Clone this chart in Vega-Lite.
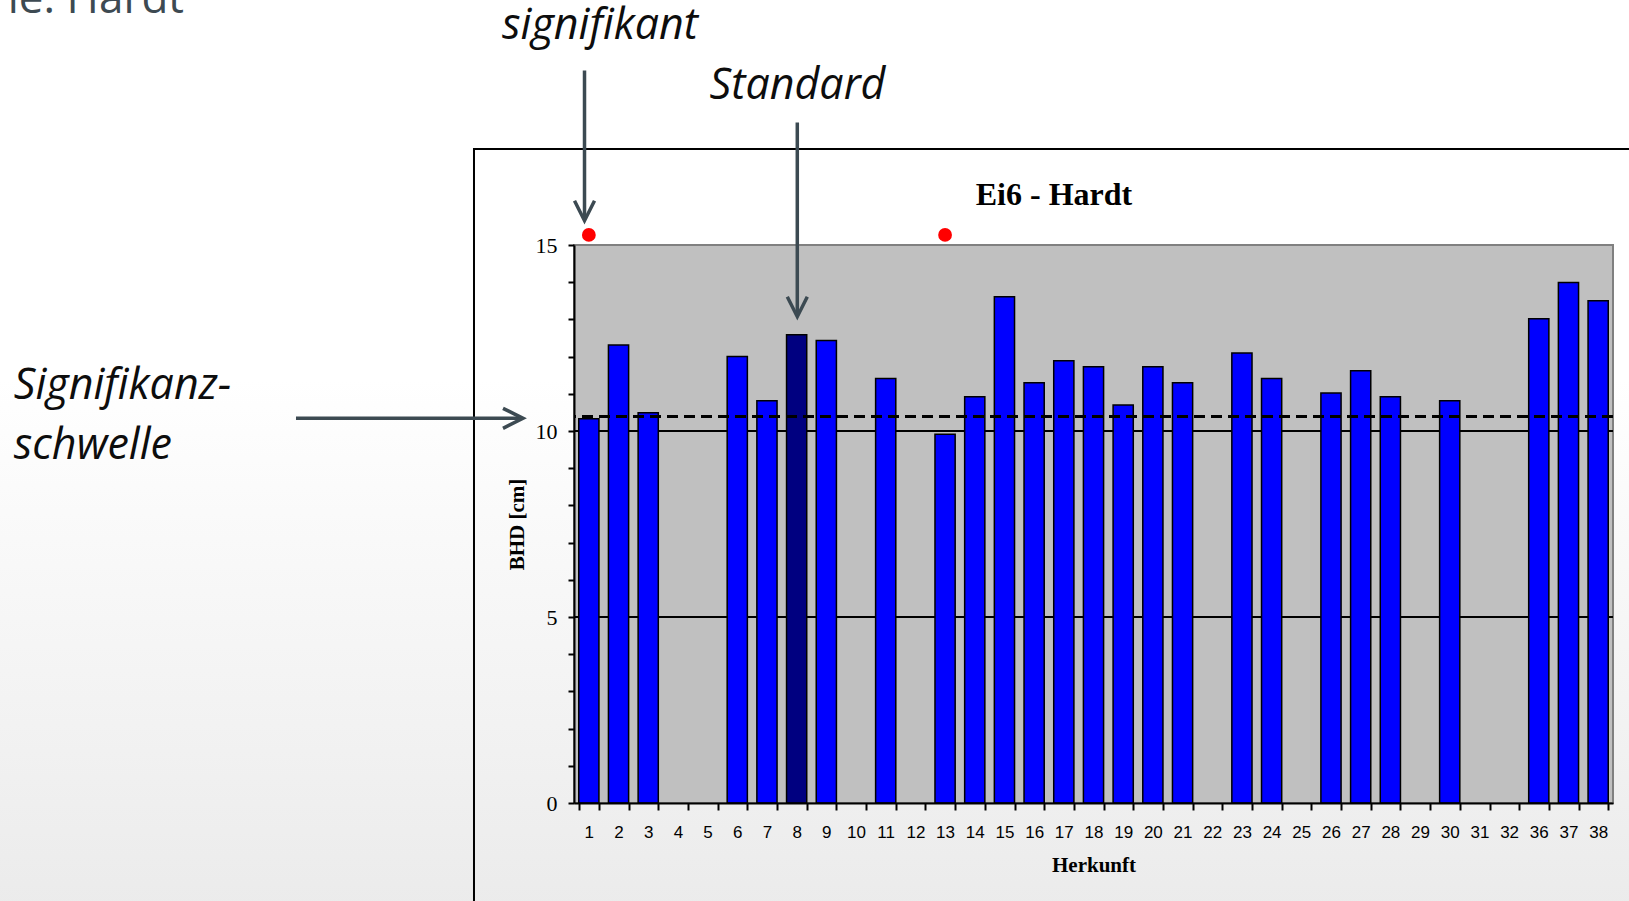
{
  "$schema": "https://vega.github.io/schema/vega-lite/v6.json",
  "width": 1039,
  "height": 558,
  "autosize": {"type": "none"},
  "padding": {"left": 574, "top": 245, "right": 16, "bottom": 98},
  "background": "white",
  "config": {
    "view": {"stroke": null},
    "axisY": {"labelOverlap": false, "tickSize": 6, "tickWidth": 2, "tickColor": "black", "domainColor": "black", "domainWidth": 2, "labelFont": "Liberation Serif", "labelFontSize": 22, "labelColor": "black", "labelPadding": 11, "titleFont": "Liberation Serif", "titleFontSize": 21, "titleFontWeight": "bold", "titleColor": "black", "titlePadding": 8, "grid": false},
    "axisX": {"labelOverlap": false, "labelAngle": 0, "labelFont": "Liberation Sans", "labelFontSize": 17, "labelColor": "black", "tickSize": 7, "tickColor": "black", "tickWidth": 2, "domainColor": "black", "domainWidth": 2, "labelPadding": 14, "titleFont": "Liberation Serif", "titleFontSize": 21, "titleFontWeight": "bold", "titleColor": "black", "titlePadding": 14, "grid": false}
  },
  "resolve": {"scale": {"x": "independent", "y": "independent"}},
  "layer": [
    {
      "data": {"values": [{"Flaeche": "Hintergrund"}]},
      "layer": [
        {
          "mark": {"type": "rect", "fill": {"gradient": "linear", "x1": 0, "y1": 0, "x2": 0, "y2": 1, "stops": [{"offset": 0, "color": "#ffffff"}, {"offset": 0.42, "color": "#ffffff"}, {"offset": 1, "color": "#ebebeb"}]}},
          "encoding": {
            "x": {"datum": -19.004, "type": "quantitative", "scale": {"domain": [0.5, 35.5], "nice": false, "zero": false}, "axis": null},
            "x2": {"datum": 36.409},
            "y": {"datum": 21.72, "type": "quantitative", "scale": {"domain": [0, 15], "nice": false, "zero": false}, "axis": null},
            "y2": {"datum": -2.876}
          }
        },
        {
          "mark": {"type": "rect", "fill": "#c0c0c0", "stroke": "#808080", "strokeWidth": 2},
          "encoding": {
            "x": {"datum": 0.5, "type": "quantitative", "scale": {"domain": [0.5, 35.5], "nice": false, "zero": false}, "axis": null},
            "x2": {"datum": 35.5},
            "y": {"datum": 0, "type": "quantitative", "scale": {"domain": [0, 15], "nice": false, "zero": false}, "axis": null},
            "y2": {"datum": 15}
          }
        }
      ]
    },
    {
      "data": {"values": [
        {"Herkunft": "1", "BHD": 10.33, "Standard": false},
        {"Herkunft": "2", "BHD": 12.31, "Standard": false},
        {"Herkunft": "3", "BHD": 10.49, "Standard": false},
        {"Herkunft": "6", "BHD": 12.0, "Standard": false},
        {"Herkunft": "7", "BHD": 10.81, "Standard": false},
        {"Herkunft": "8", "BHD": 12.59, "Standard": true},
        {"Herkunft": "9", "BHD": 12.43, "Standard": false},
        {"Herkunft": "11", "BHD": 11.41, "Standard": false},
        {"Herkunft": "13", "BHD": 9.91, "Standard": false},
        {"Herkunft": "14", "BHD": 10.92, "Standard": false},
        {"Herkunft": "15", "BHD": 13.61, "Standard": false},
        {"Herkunft": "16", "BHD": 11.3, "Standard": false},
        {"Herkunft": "17", "BHD": 11.89, "Standard": false},
        {"Herkunft": "18", "BHD": 11.73, "Standard": false},
        {"Herkunft": "19", "BHD": 10.7, "Standard": false},
        {"Herkunft": "20", "BHD": 11.73, "Standard": false},
        {"Herkunft": "21", "BHD": 11.3, "Standard": false},
        {"Herkunft": "23", "BHD": 12.1, "Standard": false},
        {"Herkunft": "24", "BHD": 11.41, "Standard": false},
        {"Herkunft": "26", "BHD": 11.02, "Standard": false},
        {"Herkunft": "27", "BHD": 11.62, "Standard": false},
        {"Herkunft": "28", "BHD": 10.92, "Standard": false},
        {"Herkunft": "30", "BHD": 10.81, "Standard": false},
        {"Herkunft": "36", "BHD": 13.02, "Standard": false},
        {"Herkunft": "37", "BHD": 13.99, "Standard": false},
        {"Herkunft": "38", "BHD": 13.5, "Standard": false}
      ]},
      "encoding": {
        "x": {
          "field": "Herkunft", "type": "ordinal",
          "scale": {"domain": ["1","2","3","4","5","6","7","8","9","10","11","12","13","14","15","16","17","18","19","20","21","22","23","24","25","26","27","28","29","30","31","32","36","37","38"], "paddingInner": 0.32, "paddingOuter": 0.16},
          "axis": {"title": "Herkunft", "tickBand": "extent", "zindex": 1}
        }
      },
      "layer": [
        {
          "mark": {"type": "rule", "color": "black", "strokeWidth": 1.5},
          "encoding": {
            "x": null,
            "y": {"datum": 5, "type": "quantitative", "scale": {"domain": [0, 15], "nice": false, "zero": false}, "axis": {"values": [0,1,2,3,4,5,6,7,8,9,10,11,12,13,14,15], "labelExpr": "datum.value % 5 === 0 ? datum.label : ''", "title": "BHD [cm]", "zindex": 1}}
          }
        },
        {
          "mark": {"type": "rule", "color": "black", "strokeWidth": 1.5},
          "encoding": {
            "x": null,
            "y": {"datum": 10, "type": "quantitative", "scale": {"domain": [0, 15], "nice": false, "zero": false}, "axis": {"values": [0,1,2,3,4,5,6,7,8,9,10,11,12,13,14,15], "labelExpr": "datum.value % 5 === 0 ? datum.label : ''", "title": "BHD [cm]", "zindex": 1}}
          }
        },
        {
          "mark": {"type": "bar", "stroke": "black", "strokeWidth": 1.5},
          "encoding": {
            "y": {"field": "BHD", "type": "quantitative", "scale": {"domain": [0, 15], "nice": false, "zero": false}, "axis": {"values": [0,1,2,3,4,5,6,7,8,9,10,11,12,13,14,15], "labelExpr": "datum.value % 5 === 0 ? datum.label : ''", "title": "BHD [cm]", "zindex": 1}},
            "fill": {"condition": {"test": "datum.Standard", "value": "#000080"}, "value": "#0000ff"}
          }
        },
        {
          "mark": {"type": "rule", "color": "black", "strokeWidth": 2.5, "strokeDash": [11, 6]},
          "encoding": {
            "x": null,
            "y": {"datum": 10.38, "type": "quantitative", "scale": {"domain": [0, 15], "nice": false, "zero": false}, "axis": {"values": [0,1,2,3,4,5,6,7,8,9,10,11,12,13,14,15], "labelExpr": "datum.value % 5 === 0 ? datum.label : ''", "title": "BHD [cm]", "zindex": 1}}
          }
        },
        {
          "transform": [{"filter": "datum.Herkunft === '1' || datum.Herkunft === '13'"}],
          "mark": {"type": "point", "filled": true, "color": "#ff0000", "opacity": 1, "size": 190},
          "encoding": {
            "y": {"datum": 15.27, "type": "quantitative", "scale": {"domain": [0, 15], "nice": false, "zero": false}, "axis": {"values": [0,1,2,3,4,5,6,7,8,9,10,11,12,13,14,15], "labelExpr": "datum.value % 5 === 0 ? datum.label : ''", "title": "BHD [cm]", "zindex": 1}}
          }
        }
      ]
    },
    {
      "layer": [
        {
          "data": {"values": [{"Rahmen": "Diagramm"}]},
          "mark": {"type": "rect", "fill": "transparent", "stroke": "black", "strokeWidth": 2},
          "encoding": {
            "x": {"datum": -2.869, "type": "quantitative", "scale": {"domain": [0.5, 35.5], "nice": false, "zero": false}, "axis": null},
            "x2": {"datum": 37.08},
            "y": {"datum": 17.581, "type": "quantitative", "scale": {"domain": [0, 15], "nice": false, "zero": false}, "axis": null},
            "y2": {"datum": -3.952}
          }
        },
        {
          "data": {"values": [{"Pfeil": "signifikant"}]},
          "mark": {"type": "rule", "color": "#3c4a52", "strokeWidth": 3.5},
          "encoding": {
            "x": {"datum": 0.854, "type": "quantitative", "scale": {"domain": [0.5, 35.5], "nice": false, "zero": false}, "axis": null},
            "y": {"datum": 19.688, "type": "quantitative", "scale": {"domain": [0, 15], "nice": false, "zero": false}, "axis": null},
            "y2": {"datum": 15.70}
          }
        },
        {
          "data": {"values": [{"Pfeil": "signifikant"}]},
          "mark": {"type": "point", "shape": "M-1,-0.5L0,0L-1,0.5", "filled": false, "stroke": "#3c4a52", "strokeWidth": 3.5, "opacity": 1, "size": 1600, "angle": 90, "strokeJoin": "miter"},
          "encoding": {
            "x": {"datum": 0.854, "type": "quantitative", "scale": {"domain": [0.5, 35.5], "nice": false, "zero": false}, "axis": null},
            "y": {"datum": 15.653, "type": "quantitative", "scale": {"domain": [0, 15], "nice": false, "zero": false}, "axis": null}
          }
        },
        {
          "data": {"values": [{"Pfeil": "Standard"}]},
          "mark": {"type": "rule", "color": "#3c4a52", "strokeWidth": 3.5},
          "encoding": {
            "x": {"datum": 8.022, "type": "quantitative", "scale": {"domain": [0.5, 35.5], "nice": false, "zero": false}, "axis": null},
            "y": {"datum": 18.29, "type": "quantitative", "scale": {"domain": [0, 15], "nice": false, "zero": false}, "axis": null},
            "y2": {"datum": 13.12}
          }
        },
        {
          "data": {"values": [{"Pfeil": "Standard"}]},
          "mark": {"type": "point", "shape": "M-1,-0.5L0,0L-1,0.5", "filled": false, "stroke": "#3c4a52", "strokeWidth": 3.5, "opacity": 1, "size": 1600, "angle": 90, "strokeJoin": "miter"},
          "encoding": {
            "x": {"datum": 8.022, "type": "quantitative", "scale": {"domain": [0.5, 35.5], "nice": false, "zero": false}, "axis": null},
            "y": {"datum": 13.073, "type": "quantitative", "scale": {"domain": [0, 15], "nice": false, "zero": false}, "axis": null}
          }
        },
        {
          "data": {"values": [{"Pfeil": "Signifikanzschwelle"}]},
          "mark": {"type": "rule", "color": "#3c4a52", "strokeWidth": 3.5},
          "encoding": {
            "x": {"datum": -8.865, "type": "quantitative", "scale": {"domain": [0.5, 35.5], "nice": false, "zero": false}, "axis": null},
            "x2": {"datum": -1.27},
            "y": {"datum": 10.341, "type": "quantitative", "scale": {"domain": [0, 15], "nice": false, "zero": false}, "axis": null}
          }
        },
        {
          "data": {"values": [{"Pfeil": "Signifikanzschwelle"}]},
          "mark": {"type": "point", "shape": "M-1,-0.5L0,0L-1,0.5", "filled": false, "stroke": "#3c4a52", "strokeWidth": 3.5, "opacity": 1, "size": 1600, "angle": 0, "strokeJoin": "miter"},
          "encoding": {
            "x": {"datum": -1.218, "type": "quantitative", "scale": {"domain": [0.5, 35.5], "nice": false, "zero": false}, "axis": null},
            "y": {"datum": 10.341, "type": "quantitative", "scale": {"domain": [0, 15], "nice": false, "zero": false}, "axis": null}
          }
        },
        {
          "data": {"values": [{"Beschriftung": "signifikant"}]},
          "mark": {"type": "text", "font": "Open Sans", "fontStyle": "italic", "fontSize": 43, "color": "#0d0d0d", "align": "center", "baseline": "alphabetic"},
          "encoding": {
            "x": {"datum": 1.376, "type": "quantitative", "scale": {"domain": [0.5, 35.5], "nice": false, "zero": false}, "axis": null},
            "y": {"datum": 20.53, "type": "quantitative", "scale": {"domain": [0, 15], "nice": false, "zero": false}, "axis": null},
            "text": {"field": "Beschriftung"}
          }
        },
        {
          "data": {"values": [{"Beschriftung": "Standard"}]},
          "mark": {"type": "text", "font": "Open Sans", "fontStyle": "italic", "fontSize": 43, "color": "#0d0d0d", "align": "center", "baseline": "alphabetic"},
          "encoding": {
            "x": {"datum": 8.029, "type": "quantitative", "scale": {"domain": [0.5, 35.5], "nice": false, "zero": false}, "axis": null},
            "y": {"datum": 18.917, "type": "quantitative", "scale": {"domain": [0, 15], "nice": false, "zero": false}, "axis": null},
            "text": {"field": "Beschriftung"}
          }
        },
        {
          "data": {"values": [{"Beschriftung": "Signifikanz-"}]},
          "mark": {"type": "text", "font": "Open Sans", "fontStyle": "italic", "fontSize": 43, "color": "#0d0d0d", "align": "left", "baseline": "alphabetic"},
          "encoding": {
            "x": {"datum": -18.37, "type": "quantitative", "scale": {"domain": [0.5, 35.5], "nice": false, "zero": false}, "axis": null},
            "y": {"datum": 10.852, "type": "quantitative", "scale": {"domain": [0, 15], "nice": false, "zero": false}, "axis": null},
            "text": {"field": "Beschriftung"}
          }
        },
        {
          "data": {"values": [{"Beschriftung": "schwelle"}]},
          "mark": {"type": "text", "font": "Open Sans", "fontStyle": "italic", "fontSize": 43, "color": "#0d0d0d", "align": "left", "baseline": "alphabetic"},
          "encoding": {
            "x": {"datum": -18.37, "type": "quantitative", "scale": {"domain": [0.5, 35.5], "nice": false, "zero": false}, "axis": null},
            "y": {"datum": 9.234, "type": "quantitative", "scale": {"domain": [0, 15], "nice": false, "zero": false}, "axis": null},
            "text": {"field": "Beschriftung"}
          }
        },
        {
          "data": {"values": [{"Beschriftung": "ie: Hardt"}]},
          "mark": {"type": "text", "font": "Open Sans", "fontSize": 44, "color": "#3d4a52", "align": "right", "baseline": "alphabetic"},
          "encoding": {
            "x": {"datum": -12.638, "type": "quantitative", "scale": {"domain": [0.5, 35.5], "nice": false, "zero": false}, "axis": null},
            "y": {"datum": 21.228, "type": "quantitative", "scale": {"domain": [0, 15], "nice": false, "zero": false}, "axis": null},
            "text": {"field": "Beschriftung"}
          }
        },
        {
          "data": {"values": [{"Beschriftung": "Ei6 - Hardt"}]},
          "mark": {"type": "text", "font": "Liberation Serif", "fontWeight": "bold", "fontSize": 32, "color": "black", "align": "center", "baseline": "alphabetic"},
          "encoding": {
            "x": {"datum": 16.669, "type": "quantitative", "scale": {"domain": [0.5, 35.5], "nice": false, "zero": false}, "axis": null},
            "y": {"datum": 16.075, "type": "quantitative", "scale": {"domain": [0, 15], "nice": false, "zero": false}, "axis": null},
            "text": {"field": "Beschriftung"}
          }
        }
      ]
    }
  ]
}
